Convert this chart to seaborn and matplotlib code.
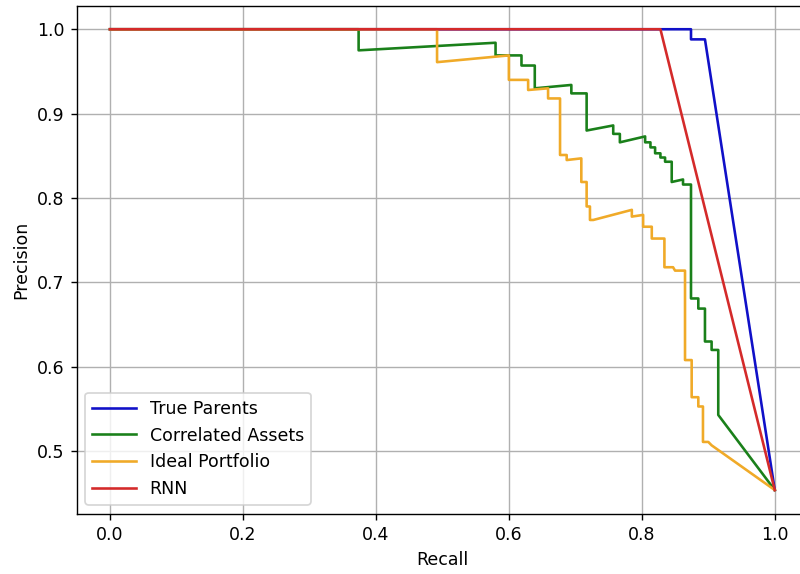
import numpy as np
import pandas as pd
import matplotlib
matplotlib.use("Agg")
import matplotlib.pyplot as plt
import seaborn as sns

series_names = ["True Parents", "Correlated Assets", "Ideal Portfolio", "RNN"]

true_parents_recall = [0.0, 0.874, 0.874, 0.895, 1.0]
true_parents_precision = [1.0, 1.0, 0.988, 0.988, 0.454]

correlated_recall = [0.0, 0.374, 0.374, 0.580, 0.580, 0.619, 0.619, 0.639, 0.639, 0.694,
                     0.694, 0.717, 0.717, 0.757, 0.757, 0.767, 0.767, 0.805, 0.805, 0.813,
                     0.813, 0.820, 0.820, 0.828, 0.828, 0.835, 0.835, 0.845, 0.845, 0.862,
                     0.862, 0.874, 0.874, 0.885, 0.885, 0.895, 0.895, 0.905, 0.905, 0.915,
                     0.915, 1.0]
correlated_precision = [1.0, 1.0, 0.975, 0.984, 0.969, 0.969, 0.957, 0.957, 0.930, 0.934,
                        0.924, 0.924, 0.880, 0.886, 0.876, 0.876, 0.866, 0.873, 0.866, 0.866,
                        0.860, 0.860, 0.853, 0.853, 0.848, 0.848, 0.843, 0.843, 0.819, 0.822,
                        0.816, 0.816, 0.681, 0.681, 0.669, 0.669, 0.630, 0.630, 0.620, 0.620,
                        0.543, 0.454]

ideal_recall = [0.0, 0.492, 0.492, 0.600, 0.600, 0.629, 0.629, 0.659, 0.659, 0.677,
                0.677, 0.687, 0.687, 0.709, 0.709, 0.717, 0.717, 0.722, 0.722, 0.727,
                0.785, 0.785, 0.802, 0.802, 0.815, 0.815, 0.834, 0.834, 0.847, 0.850,
                0.865, 0.865, 0.875, 0.875, 0.885, 0.885, 0.892, 0.892, 0.900, 0.905, 1.0]
ideal_precision = [1.0, 1.0, 0.961, 0.969, 0.940, 0.940, 0.928, 0.930, 0.918, 0.918,
                   0.851, 0.851, 0.845, 0.847, 0.819, 0.819, 0.790, 0.790, 0.774, 0.774,
                   0.786, 0.778, 0.780, 0.766, 0.766, 0.752, 0.752, 0.718, 0.718, 0.714,
                   0.714, 0.608, 0.608, 0.564, 0.564, 0.553, 0.553, 0.511, 0.511, 0.507, 0.454]

rnn_recall = [0.0, 0.828, 1.0]
rnn_precision = [1.0, 1.0, 0.454]

colors = {"True Parents": "#1010c8", "Correlated Assets": "#1a801a",
          "Ideal Portfolio": "#f0aa28", "RNN": "#d42a2a"}

frames = []
for name, r, p in zip(series_names,
                      [true_parents_recall, correlated_recall, ideal_recall, rnn_recall],
                      [true_parents_precision, correlated_precision, ideal_precision, rnn_precision]):
    frames.append(pd.DataFrame({"Recall": r, "Precision": p, "series": name,
                                "order": np.arange(len(r))}))
df = pd.concat(frames, ignore_index=True)

plt.rcParams["font.family"] = ["DejaVu Sans"]
fig = plt.figure(figsize=(6.4, 4.592), dpi=125)
ax = fig.add_axes([76.75 / 800, 1 - 513.5 / 574, (808 - 76.75) / 800, (513.5 - 6.2) / 574])

sns.lineplot(data=df, x="Recall", y="Precision", hue="series", hue_order=series_names,
             palette=colors, sort=False, estimator=None, units="series", linewidth=1.5, ax=ax)

ax.set_xticks([0.0, 0.2, 0.4, 0.6, 0.8, 1.0])
ax.set_yticks([0.5, 0.6, 0.7, 0.8, 0.9, 1.0])
ax.grid(True, color="#b0b0b0", linewidth=0.8)
ax.set_axisbelow(True)
ax.set_xlim(-0.05, 1.05)
ax.set_ylim(0.4262, 1.0273)
ax.set_xlabel("Recall")
ax.set_ylabel("Precision")
sns.move_legend(ax, "lower left", title=None, handlelength=2.5)

fig.savefig("out.png", dpi=125)
